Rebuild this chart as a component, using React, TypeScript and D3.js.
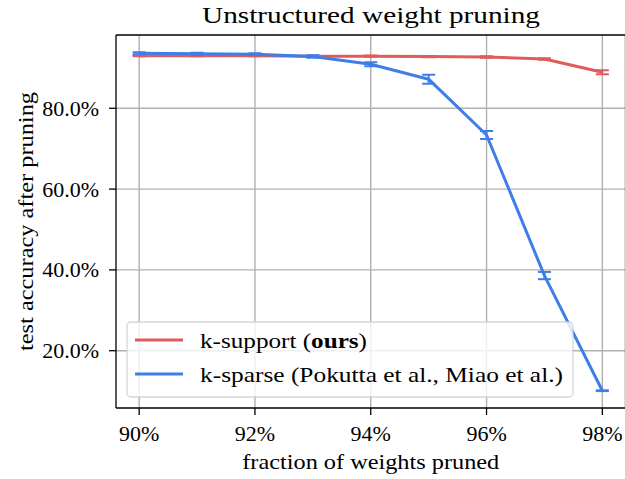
import React from "react";
import * as d3 from "d3";

const pruned = [90, 91, 92, 93, 94, 95, 96, 97, 98];
const kSupportAcc = [93.0, 93.0, 93.0, 92.9, 92.9, 92.8, 92.7, 92.2, 88.9];
const kSupportErr = [0.15, 0.15, 0.15, 0.15, 0.15, 0.15, 0.2, 0.2, 0.5];
const kSparseAcc = [93.6, 93.5, 93.4, 92.8, 90.9, 87.2, 73.4, 38.6, 10.1];
const kSparseErr = [0.25, 0.25, 0.2, 0.3, 0.5, 1.1, 1.0, 0.9, 0.1];
const xTicks = [90, 92, 94, 96, 98];
const yTicks = [20, 40, 60, 80];
const xTickLabels = ["90%", "92%", "94%", "96%", "98%"];
const yTickLabels = ["20.0%", "40.0%", "60.0%", "80.0%"];

const W = 625;
const H = 479;
const left = 116;
const right = 625.5;
const top = 35;
const bottom = 408;

const RED = "#e05c5c";
const BLUE = "#3e7ee6";
const FONT = "'Liberation Serif', 'Times New Roman', serif";

export default function App() {
  const x = d3.scaleLinear().domain([89.6, 98.4]).range([left, right]);
  const y = d3.scaleLinear().domain([5.82, 98.14]).range([bottom, top]);
  const line = d3
    .line<[number, number]>()
    .x((d) => x(d[0]))
    .y((d) => y(d[1]));

  const series = [
    { vals: kSupportAcc, errs: kSupportErr, color: RED },
    { vals: kSparseAcc, errs: kSparseErr, color: BLUE },
  ];

  const cap = 6.5;

  return (
    <svg
      width={W}
      height={H}
      style={{ position: "absolute", left: 0, top: 0, display: "block", background: "#fff" }}
    >
      <defs>
        <clipPath id="plotclip">
          <rect x={left} y={top} width={right - left} height={bottom - top} />
        </clipPath>
      </defs>
      <rect x={0} y={0} width={W} height={H} fill="#fff" />
      {/* grid */}
      <g stroke="#b0b0b0" strokeWidth={1.4}>
        {xTicks.map((t) => (
          <line key={"gx" + t} x1={x(t)} x2={x(t)} y1={top} y2={bottom} />
        ))}
        {yTicks.map((t) => (
          <line key={"gy" + t} x1={left} x2={right} y1={y(t)} y2={y(t)} />
        ))}
      </g>
      {/* series */}
      <g clipPath="url(#plotclip)">
        {series.map((s, si) => (
          <g key={si}>
            <path
              d={line(pruned.map((p, i) => [p, s.vals[i]] as [number, number])) || ""}
              fill="none"
              stroke={s.color}
              strokeWidth={3}
              strokeLinejoin="round"
            />
            {pruned.map((p, i) => {
              const cx = x(p);
              const y1 = y(s.vals[i] - s.errs[i]);
              const y2 = y(s.vals[i] + s.errs[i]);
              return (
                <g key={i} stroke={s.color} strokeWidth={2}>
                  <line x1={cx} x2={cx} y1={y1} y2={y2} />
                  <line x1={cx - cap} x2={cx + cap} y1={y1} y2={y1} />
                  <line x1={cx - cap} x2={cx + cap} y1={y2} y2={y2} />
                </g>
              );
            })}
          </g>
        ))}
      </g>
      {/* spines */}
      <g stroke="#000" strokeWidth={1.3} fill="none">
        <line x1={left} x2={left} y1={top} y2={bottom} />
        <line x1={left} x2={right} y1={top} y2={top} />
        <line x1={left} x2={right} y1={bottom} y2={bottom} />
        <line x1={right} x2={right} y1={top} y2={bottom} />
      </g>
      {/* ticks */}
      <g stroke="#000" strokeWidth={1.3}>
        {xTicks.map((t) => (
          <line key={"tx" + t} x1={x(t)} x2={x(t)} y1={bottom} y2={bottom + 7} />
        ))}
        {yTicks.map((t) => (
          <line key={"ty" + t} x1={left - 7} x2={left} y1={y(t)} y2={y(t)} />
        ))}
      </g>
      <g fontFamily={FONT} fontSize={22} fill="#000">
        {xTicks.map((t, i) => (
          <text key={"lx" + t} x={x(t)} y={441} textAnchor="middle">
            {xTickLabels[i]}
          </text>
        ))}
        {yTicks.map((t, i) => (
          <text key={"ly" + t} x={99} y={y(t) + 7.5} textAnchor="end">
            {yTickLabels[i]}
          </text>
        ))}
        <text x={(left + right) / 2} y={469} textAnchor="middle" textLength={257} lengthAdjust="spacingAndGlyphs">
          fraction of weights pruned
        </text>
        <text
          transform={`translate(33, ${(top + bottom) / 2}) rotate(-90)`}
          textAnchor="middle"
          textLength={259}
          lengthAdjust="spacingAndGlyphs"
        >
          test accuracy after pruning
        </text>
      </g>
      <text
        x={371}
        y={22.5}
        textAnchor="middle"
        fontFamily={FONT}
        fontSize={23.5}
        textLength={338}
        lengthAdjust="spacingAndGlyphs"
      >
        Unstructured weight pruning
      </text>
      {/* legend */}
      <g>
        <rect
          x={127}
          y={322}
          width={446}
          height={75}
          rx={4}
          fill="#fff"
          fillOpacity={0.8}
          stroke="#cccccc"
          strokeOpacity={0.8}
          strokeWidth={1.3}
        />
        <line x1={135} x2={183} y1={340} y2={340} stroke={RED} strokeWidth={3} />
        <line x1={135} x2={183} y1={374} y2={374} stroke={BLUE} strokeWidth={3} />
        <text x={200} y={347.5} fontFamily={FONT} fontSize={22} textLength={167} lengthAdjust="spacingAndGlyphs">
          k-support (<tspan fontWeight="bold">ours</tspan>)
        </text>
        <text x={200} y={381.5} fontFamily={FONT} fontSize={22} textLength={363} lengthAdjust="spacingAndGlyphs">
          k-sparse (Pokutta et al., Miao et al.)
        </text>
      </g>
    </svg>
  );
}
